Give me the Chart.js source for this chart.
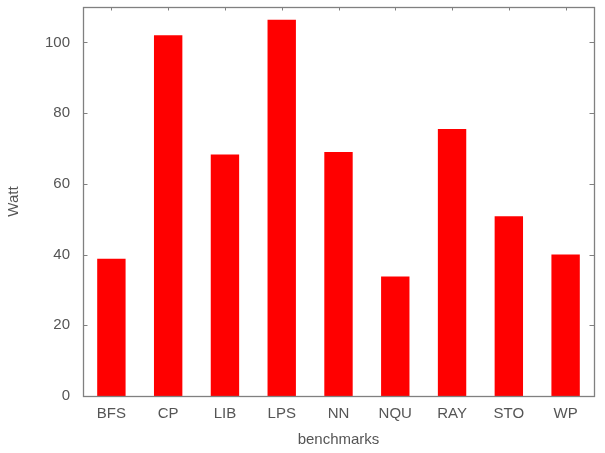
<!DOCTYPE html>
<html>
<head>
<meta charset="utf-8">
<script src="https://cdn.jsdelivr.net/npm/chart.js@4/dist/chart.umd.min.js"></script>
<style>
  html, body { margin: 0; padding: 0; background: #fff; }
  #wrap { width: 605px; height: 453px; }
</style>
</head>
<body>
<div id="wrap"><canvas id="c" width="605" height="453"></canvas></div>
<script>
const categories = ["BFS", "CP", "LIB", "LPS", "NN", "NQU", "RAY", "STO", "WP"];
const watt = [38.8, 102.0, 68.3, 106.4, 69.0, 33.8, 75.5, 50.8, 40.0];
const yTicks = [0, 20, 40, 60, 80, 100];
const yMax = 110;

const TEXT = '#555555';
const AXIS = '#808080';
const FONT = "'Liberation Sans', Arial, sans-serif";

const frame = {
  id: 'frame',
  beforeDatasetsDraw(chart) {
    const { ctx, chartArea: a, scales: { x, y } } = chart;
    ctx.save();
    ctx.strokeStyle = AXIS;
    ctx.lineWidth = 1;
    ctx.beginPath();
    y.ticks.forEach((t) => {
      const py = Math.round(y.getPixelForValue(t.value)) + 0.5;
      ctx.moveTo(a.left, py); ctx.lineTo(a.left + 4.5, py);
      ctx.moveTo(a.right, py); ctx.lineTo(a.right - 4.5, py);
    });
    categories.forEach((c, i) => {
      const px = Math.round(x.getPixelForValue(i)) + 0.5;
      ctx.moveTo(px, a.top); ctx.lineTo(px, a.top + 3.5);
      ctx.moveTo(px, a.bottom); ctx.lineTo(px, a.bottom - 3.5);
    });
    ctx.stroke();
    ctx.restore();
  },
  afterDatasetsDraw(chart) {
    const { ctx, chartArea: a } = chart;
    ctx.save();
    ctx.strokeStyle = AXIS;
    ctx.lineWidth = 1.3;
    ctx.strokeRect(Math.round(a.left) + 0.5, Math.round(a.top) + 0.5,
      Math.round(a.right - a.left), Math.round(a.bottom - a.top));
    ctx.restore();
  }
};

new Chart(document.getElementById('c'), {
  type: 'bar',
  data: {
    labels: categories,
    datasets: [{
      label: 'Watt',
      data: watt,
      backgroundColor: '#ff0000',
      borderWidth: 0,
      barPercentage: 0.5,
      categoryPercentage: 1.0
    }]
  },
  options: {
    responsive: false,
    animation: false,
    devicePixelRatio: 1,
    layout: { padding: { left: 0, right: 11, top: 7, bottom: 0 } },
    plugins: {
      legend: { display: false },
      tooltip: { enabled: false }
    },
    scales: {
      x: {
        grid: { display: false, drawTicks: false },
        border: { display: false },
        ticks: { color: TEXT, font: { family: FONT, size: 15 }, padding: 9 },
        title: {
          display: true, text: 'benchmarks', color: TEXT,
          font: { family: FONT, size: 15 }, padding: { top: 0, bottom: 4 }
        },
        afterFit(s) { s.height = 57; s.paddingLeft = 0; s.paddingRight = 0; }
      },
      y: {
        min: 0, max: yMax,
        grid: { display: false, drawTicks: false },
        border: { display: false },
        afterBuildTicks(s) { s.ticks = yTicks.map(v => ({ value: v })); },
        ticks: { color: TEXT, font: { family: FONT, size: 15 }, padding: 13 },
        title: {
          display: true, text: 'Watt', color: TEXT,
          font: { family: FONT, size: 15 }, padding: { top: 5, bottom: 0 }
        },
        afterFit(s) { s.width = 83; s.paddingTop = 0; s.paddingBottom = 0; }
      }
    }
  },
  plugins: [frame]
});
</script>
</body>
</html>
